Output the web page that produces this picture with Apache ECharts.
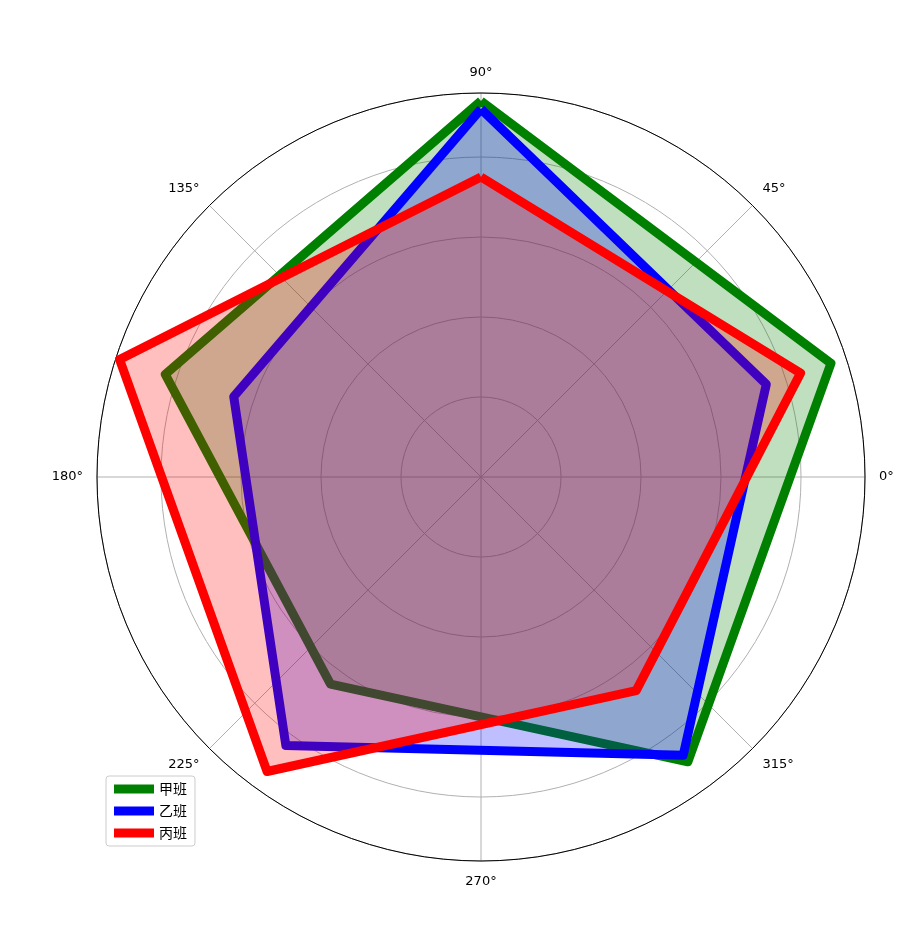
<!DOCTYPE html>
<html>
<head>
<meta charset="utf-8">
<script src="https://cdn.jsdelivr.net/npm/echarts@6/dist/echarts.min.js"></script>
<style>html,body{margin:0;padding:0;background:#fff}#main{width:920px;height:934px}</style>
</head>
<body>
<div id="main"></div>
<script>
// 班级名称
var classNames = ['甲班', '乙班', '丙班'];
var colors = ['#008000', '#0000ff', '#ff0000'];
// 五个维度，按 90°,162°,234°,306°,18° 逆时针排列
var dims = ['A', 'B', 'C', 'D', 'E'];
var jia = [94, 83, 64, 88, 92];
var yi = [92, 65, 83, 86, 75];
var bing = [75, 95, 91, 66, 84];
var rMax = 96;
var angleTicks = [0, 45, 90, 135, 180, 225, 270, 315];

var center = [481, 477], radius = 384;
var myChart = echarts.init(document.getElementById('main'));

var seriesData = [jia, yi, bing];
var series = seriesData.map(function (d, i) {
    return {
        name: classNames[i],
        type: 'radar',
        symbol: 'none',
        lineStyle: { color: colors[i], width: 9 },
        itemStyle: { color: colors[i] },
        areaStyle: { color: colors[i], opacity: 0.25 },
        data: [{ value: d, name: classNames[i] }]
    };
});

var option = {
    animation: false,
    textStyle: { fontFamily: 'DejaVu Sans, Noto Sans CJK SC' },
    polar: { center: center, radius: radius },
    angleAxis: {
        type: 'value', min: 0, max: 360, interval: 45, startAngle: 0, clockwise: false,
        axisLine: { lineStyle: { color: '#000', width: 1 } },
        axisTick: { show: false },
        splitLine: { lineStyle: { color: '#b0b0b0', width: 1 } },
        axisLabel: { margin: 14, fontSize: 13, color: '#000', formatter: function (v) { return angleTicks.indexOf(v) >= 0 && v < 360 ? v + '°' : ''; } }
    },
    radiusAxis: {
        min: 0, max: rMax, interval: 20,
        axisLine: { show: false }, axisTick: { show: false }, axisLabel: { show: false },
        splitLine: { show: true, lineStyle: { color: '#b0b0b0', width: 1 } }
    },
    radar: {
        center: center, radius: radius, startAngle: 90, shape: 'circle',
        indicator: dims.map(function (n) { return { name: '', max: rMax, min: 0 }; }),
        axisName: { show: false },
        axisLine: { show: false }, splitLine: { show: false }, splitArea: { show: false }
    },
    legend: {
        orient: 'vertical', left: 106, top: 776, itemWidth: 40, itemHeight: 9, itemGap: 8,
        icon: 'rect',
        backgroundColor: '#fff', borderColor: '#ccc', borderWidth: 1, borderRadius: 3, padding: [6, 8],
        textStyle: { fontSize: 14, color: '#000', fontFamily: 'Noto Sans CJK SC' },
        data: classNames
    },
    series: series
};
myChart.setOption(option);
</script>
</body>
</html>
